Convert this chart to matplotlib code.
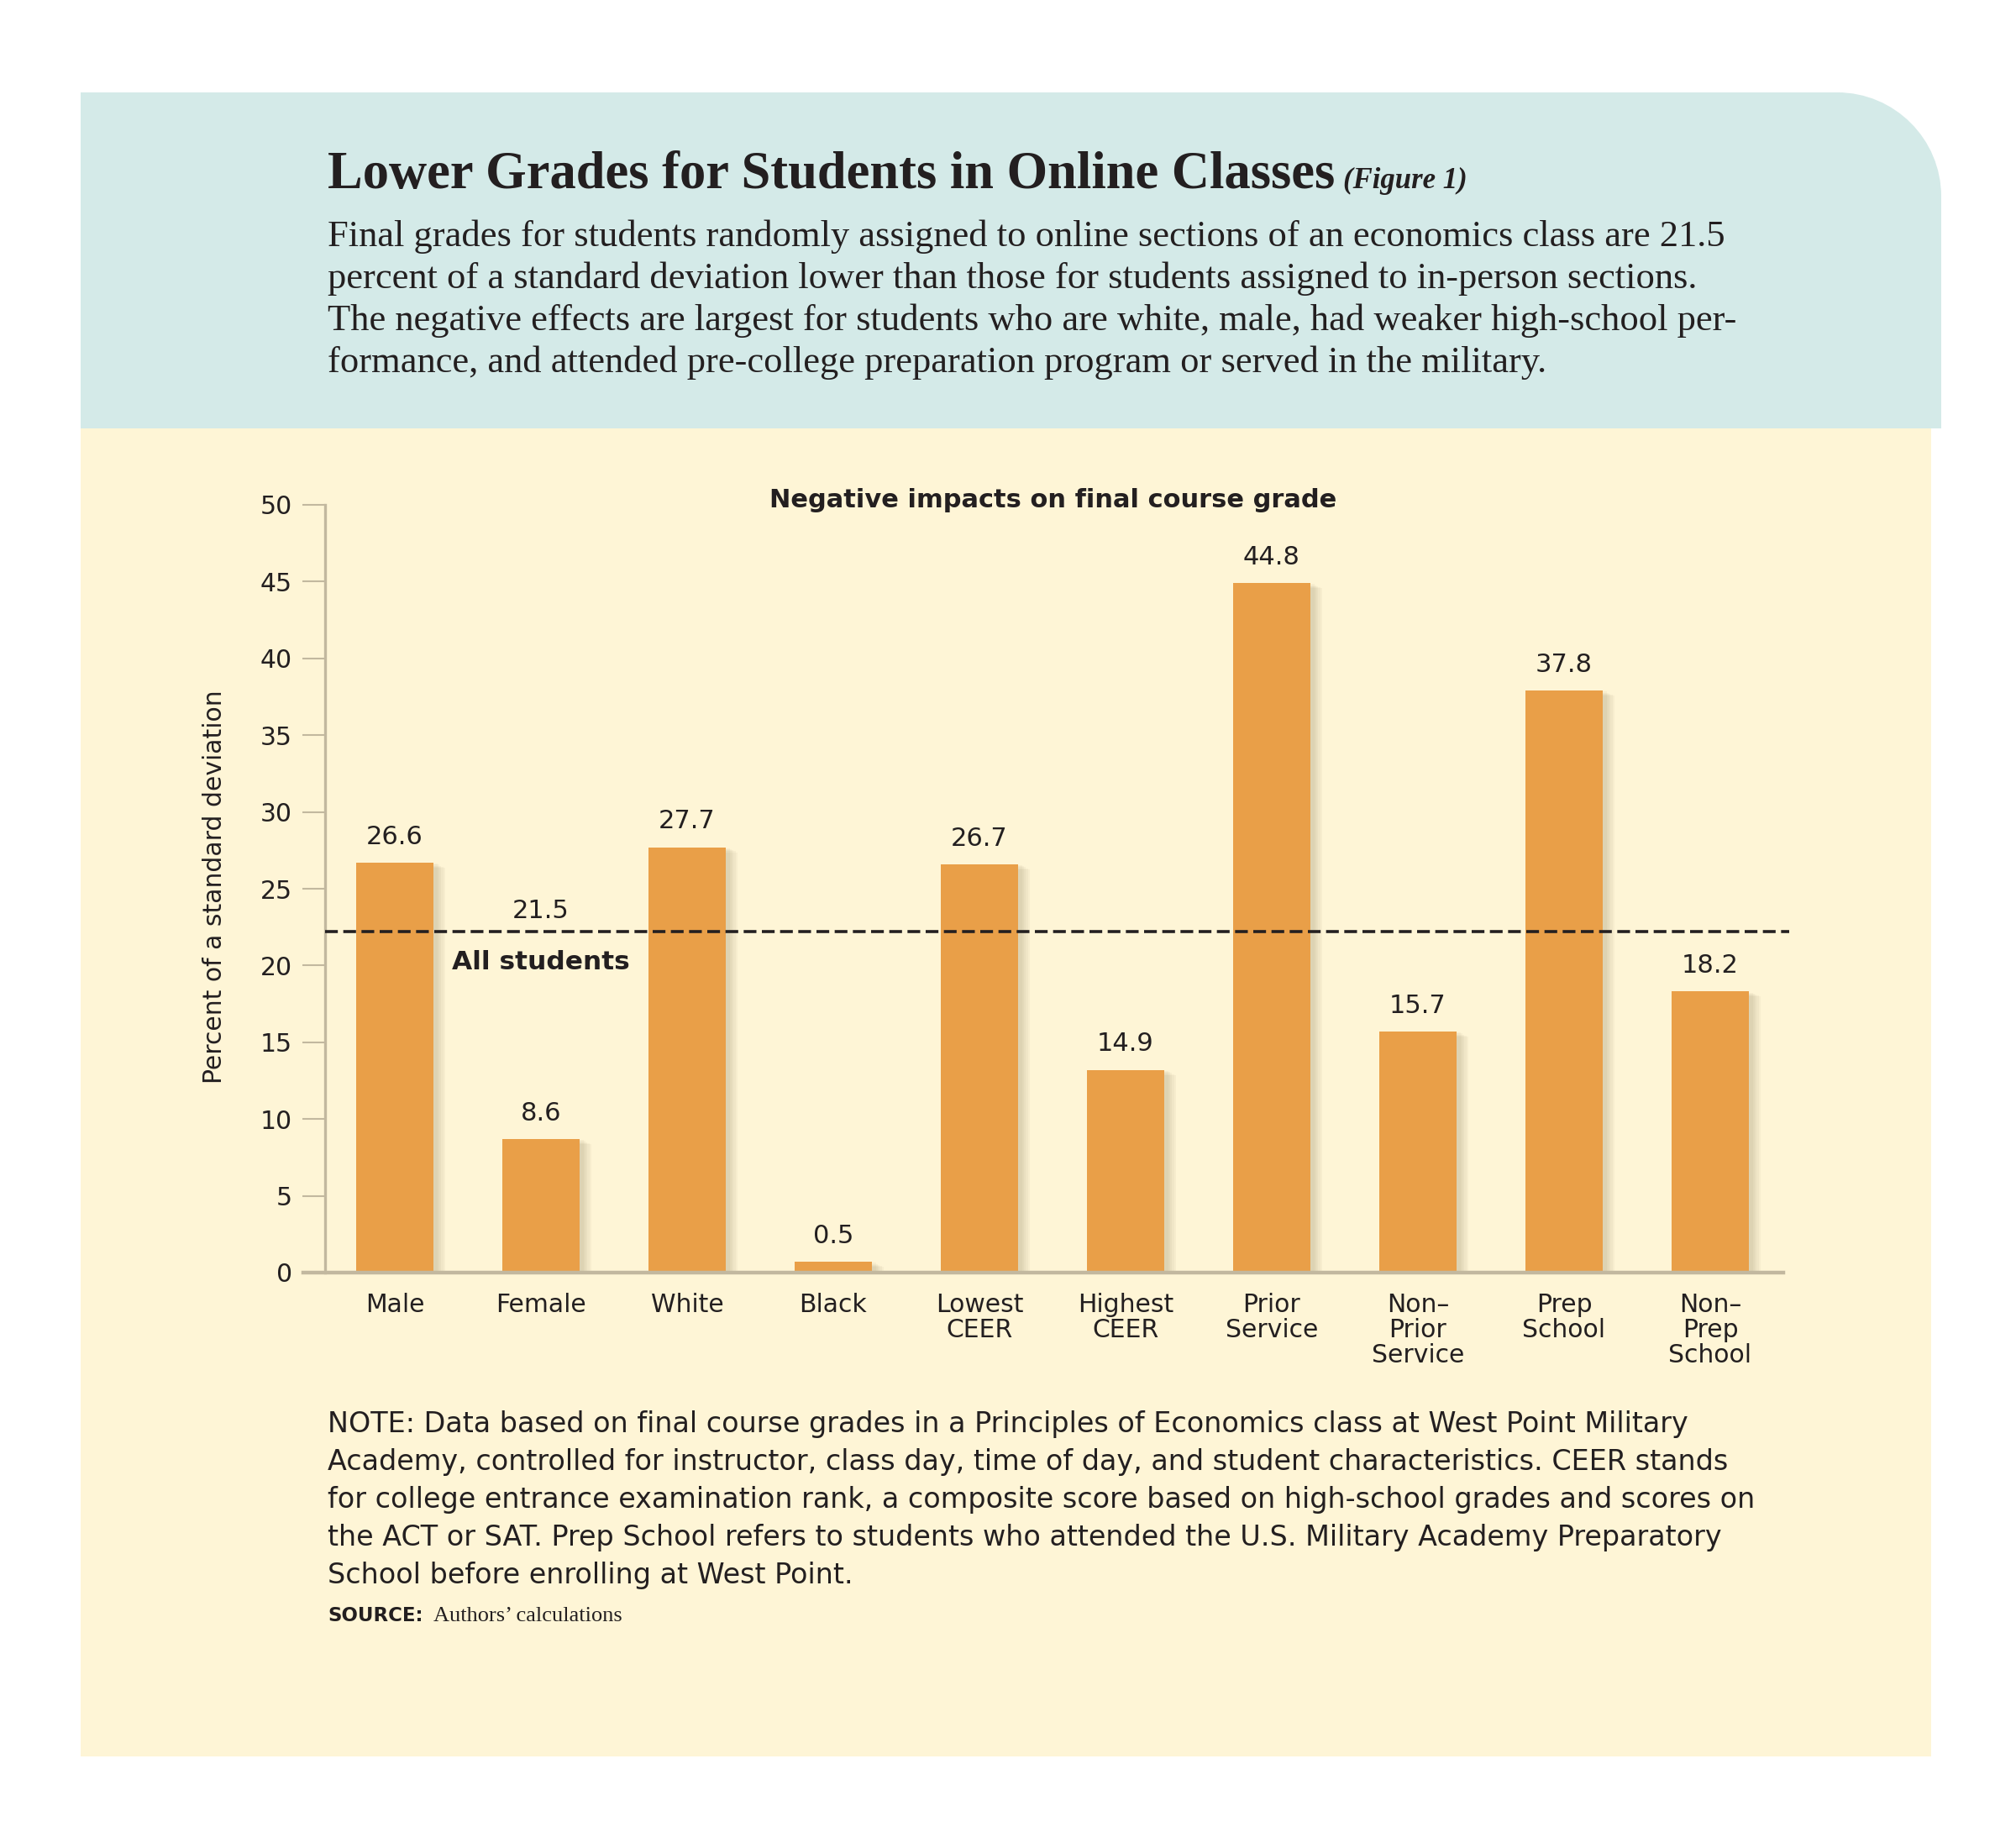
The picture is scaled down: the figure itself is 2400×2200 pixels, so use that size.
"""
Figure 1 — Lower grades for students in online classes.
Bar chart of negative impacts on final course grade by student group.
"""

import matplotlib
matplotlib.use("Agg")
import matplotlib.pyplot as plt
import numpy as np
from matplotlib.path import Path
from matplotlib.patches import PathPatch, Rectangle

# ─── Data ─────────────────────────────────────────────────────────────
categories = ["Male", "Female", "White", "Black", "Lowest\nCEER", "Highest\nCEER",
              "Prior\nService", "Non–\nPrior\nService", "Prep\nSchool", "Non–\nPrep\nSchool"]
value_labels = ["26.6", "8.6", "27.7", "0.5", "26.7", "14.9", "44.8", "15.7", "37.8", "18.2"]
# bar heights as drawn in the original graphic
bar_heights = [26.7, 8.7, 27.7, 0.7, 26.6, 13.2, 44.9, 15.7, 37.9, 18.3]
all_students_label = "21.5"
all_students_level = 22.2
y_ticks = list(range(0, 55, 5))

title = "Lower Grades for Students in Online Classes"
title_tag = "(Figure 1)"
subtitle_lines = [
    "Final grades for students randomly assigned to online sections of an economics class are 21.5",
    "percent of a standard deviation lower than those for students assigned to in-person sections.",
    "The negative effects are largest for students who are white, male, had weaker high-school per-",
    "formance, and attended pre-college preparation program or served in the military.",
]
note_lines = [
    "NOTE: Data based on final course grades in a Principles of Economics class at West Point Military",
    "Academy, controlled for instructor, class day, time of day, and student characteristics. CEER stands",
    "for college entrance examination rank, a composite score based on high-school grades and scores on",
    "the ACT or SAT. Prep School refers to students who attended the U.S. Military Academy Preparatory",
    "School before enrolling at West Point.",
]

# ─── Style ────────────────────────────────────────────────────────────
W, H = 2400, 2200
HEADER_BG = "#D4EAE8"
PANEL_BG = "#FEF5D6"
BAR_COLOR = "#E99F48"
SHADOW = "#7A6A48"
AXIS_COLOR = "#C2B89F"
INK = "#231F20"
SANS = ["DejaVu Sans"]
SERIF = ["Liberation Serif", "DejaVu Serif"]


def fx(x):
    return x / W


def fy(y):
    return 1 - y / H


fig = plt.figure(figsize=(24, 22), dpi=100)
fig.patch.set_facecolor("white")

# background panels, drawn in pixel coordinates
bg = fig.add_axes([0, 0, 1, 1], zorder=0)
bg.set_xlim(0, W)
bg.set_ylim(H, 0)
bg.axis("off")

bg.add_patch(Rectangle((96, 510), 2299 - 96, 2091 - 510, facecolor=PANEL_BG, lw=0))

r = 124
x0, x1, y0, y1 = 96, 2311, 110, 510
k = 0.5523 * r
verts = [(x0, y1), (x0, y0), (x1 - r, y0),
         (x1 - r + k, y0), (x1, y0 + r - k), (x1, y0 + r),
         (x1, y1), (x0, y1)]
codes = [Path.MOVETO, Path.LINETO, Path.LINETO,
         Path.CURVE4, Path.CURVE4, Path.CURVE4,
         Path.LINETO, Path.CLOSEPOLY]
bg.add_patch(PathPatch(Path(verts, codes), facecolor=HEADER_BG, lw=0))

# ─── Header text ──────────────────────────────────────────────────────
t_title = fig.text(fx(390), fy(224), title, family=SERIF, fontweight="bold", fontsize=45,
                   color=INK, va="baseline", ha="left")
renderer = fig.canvas.get_renderer()
title_end = t_title.get_window_extent(renderer).x1      # pixels from the left
fig.text((title_end + 10) / W, fy(224), title_tag, family=SERIF, fontweight="bold",
         style="italic", fontsize=25, color=INK, va="baseline", ha="left")
for i, line in enumerate(subtitle_lines):
    fig.text(fx(390), fy(293 + 50 * i), line, family=SERIF, fontsize=32,
             color=INK, va="baseline", ha="left")

# ─── Chart ────────────────────────────────────────────────────────────
ax_l, ax_r, ax_b, ax_t = 387, 2123, 1515, 601
ax = fig.add_axes([fx(ax_l), fy(ax_b), (ax_r - ax_l) / W, (ax_b - ax_t) / H], zorder=1)
ax.set_facecolor("none")

x = np.arange(len(categories))
bar_w = 0.53
px_x = 1 / 174.0     # one pixel in x data units
px_y = 1 / 18.28     # one pixel in y data units
heights = np.array(bar_heights)

# soft drop shadow to the right / below each bar
for d in (3, 6, 9, 12, 15):
    ax.bar(x + (d / 2 + 2) * px_x, heights + d * 0.2 * px_y,
           width=bar_w + d * px_x * 0.6, bottom=-d * 0.6 * px_y,
           color=SHADOW, alpha=0.05, lw=0, zorder=1)

ax.bar(x, heights, width=bar_w, color=BAR_COLOR, lw=0, zorder=2)

for xi, h, lab in zip(x, heights, value_labels):
    ax.annotate(lab, (xi, h), xytext=(0, 16), textcoords="offset points",
                ha="center", va="baseline", fontsize=22, color=INK, family=SANS)

# all-students reference line
ax.axhline(all_students_level, xmin=0, xmax=1.004, color=INK, lw=2.6,
           linestyle=(0, (4.2, 1.8)), zorder=4, clip_on=False)
ax.annotate(all_students_label, (1, all_students_level), xytext=(0, 12),
            textcoords="offset points", ha="center", va="baseline",
            fontsize=22, color=INK, family=SANS)
ax.annotate("All students", (1, all_students_level), xytext=(0, -32),
            textcoords="offset points", ha="center", va="baseline",
            fontsize=22.5, fontweight="bold", color=INK, family=SANS)

ax.set_xlim(-0.477, 9.5)
ax.set_ylim(0, 50)
ax.set_yticks(y_ticks)
ax.set_xticks(x)
ax.set_xticklabels(categories, family=SANS)
for lbl in ax.get_xticklabels():
    lbl.set_linespacing(1.05)

for side in ("top", "right", "bottom"):
    ax.spines[side].set_visible(False)
ax.spines["left"].set_color(AXIS_COLOR)
ax.spines["left"].set_linewidth(2.4)

# x axis line runs out past the y axis to the tick ends
ax.axhline(0, xmin=-0.015, xmax=1, color=AXIS_COLOR, lw=3.2, zorder=3, clip_on=False)

ax.tick_params(axis="y", length=19.5, width=1.5, color=AXIS_COLOR, pad=8.5,
               labelsize=21.5, labelcolor=INK)
ax.tick_params(axis="x", length=0, pad=17, labelsize=21.5, labelcolor=INK)

fig.text(fx(1254), fy(595), "Negative impacts on final course grade", family=SANS,
         fontweight="bold", fontsize=22, color=INK, ha="center", va="center")
fig.text(fx(256), fy(1056), "Percent of a standard deviation", family=SANS,
         fontsize=21.5, color=INK, rotation=90, ha="center", va="center")

# ─── Note / source ────────────────────────────────────────────────────
for i, line in enumerate(note_lines):
    fig.text(fx(390), fy(1705 + 45 * i), line, family=SANS, fontsize=24,
             color=INK, va="baseline", ha="left")
fig.text(fx(390), fy(1930), "SOURCE:", family=SANS, fontweight="bold", fontsize=16.5,
         color=INK, va="baseline", ha="left")
fig.text(fx(516), fy(1930), "Authors’ calculations", family=SERIF, fontsize=19,
         color=INK, va="baseline", ha="left")

fig.savefig("out.png", dpi=100, facecolor="white")
plt.close(fig)
